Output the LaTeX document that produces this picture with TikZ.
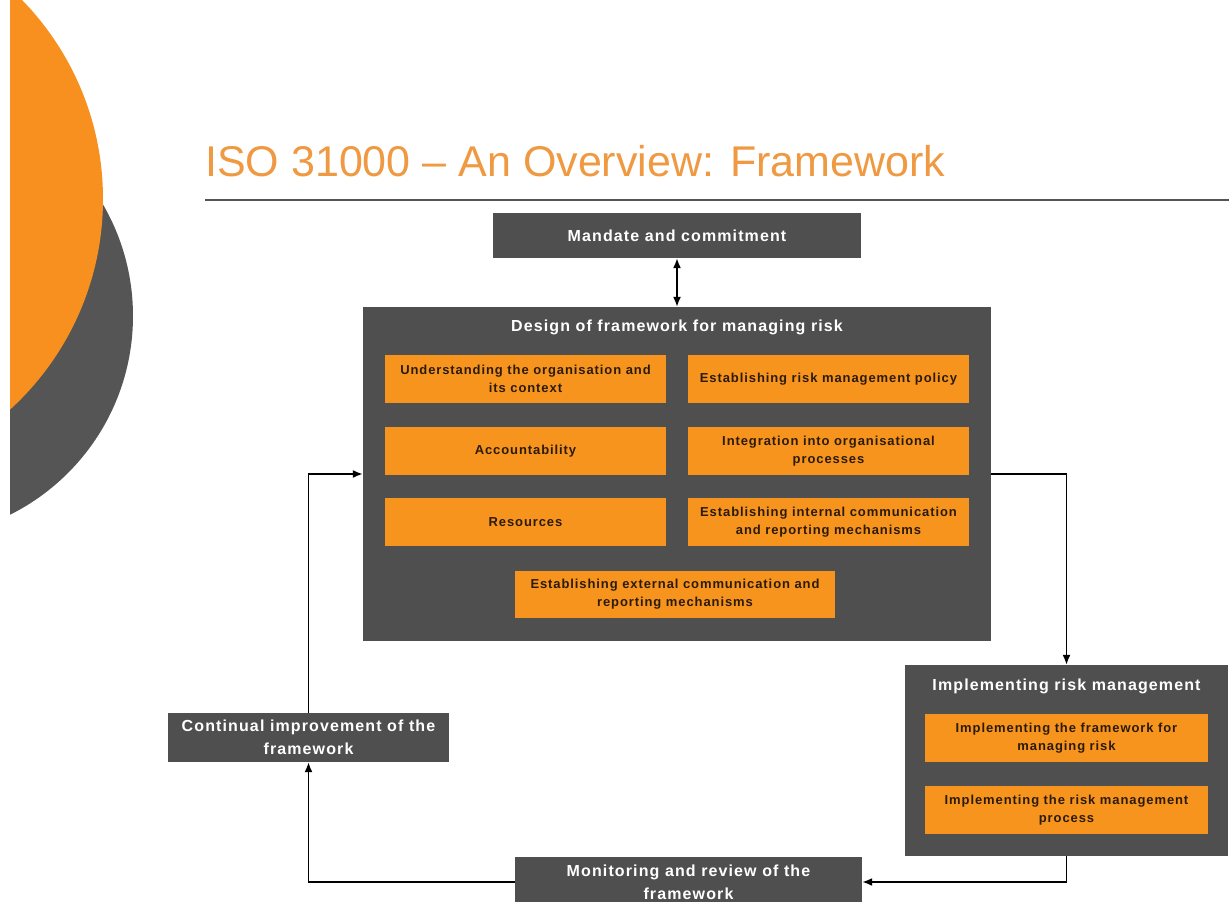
\documentclass[tikz,border=0pt]{standalone}
\usepackage{fontspec}
\setmainfont{Liberation Sans}
\newfontfamily\gfont[LetterSpace=7]{Liberation Sans}
\usetikzlibrary{arrows.meta}
\definecolor{boxgray}{HTML}{4F4F4F}
\definecolor{boxorange}{HTML}{F7941E}
\definecolor{circorange}{HTML}{F7901E}
\definecolor{circgray}{HTML}{555555}
\definecolor{titleorange}{HTML}{EF9A42}
\definecolor{txtdark}{HTML}{2B1B0B}
\tikzset{
  graybox/.style={fill=boxgray, draw=none, text=white, font=\gfont\bfseries\fontsize{16}{23}\selectfont, align=center, inner sep=0pt},
  graytitle/.style={text=white, font=\gfont\bfseries\fontsize{16}{23}\selectfont, align=center, inner sep=0pt},
  panel/.style={fill=boxgray, draw=none, inner sep=0pt},
  orangebox/.style={fill=boxorange, text=txtdark, font=\gfont\bfseries\fontsize{13}{18}\selectfont, align=center, inner sep=0pt, minimum width=281, minimum height=48},
  conn/.style={draw=black, line width=1.6pt, -{Latex[length=10pt,width=8pt]}},
}
\begin{document}
\begin{tikzpicture}[x=1pt,y=-1pt]
\useasboundingbox (0,0) rectangle (1229,902);
\fill[white] (0,0) rectangle (1229,902);
\begin{scope}
  \clip (10,0) rectangle (1229,902);
  \fill[circgray] (-89,316) circle[radius=222pt];
  \fill[circorange] (-182,199) circle[radius=285pt];
\end{scope}

\node[anchor=base west, text=titleorange, font=\fontsize{43}{43}\selectfont, inner sep=0pt] (title) at (205,176) {ISO 31000 – An Overview: Framework};
\draw[line width=1.8pt, draw=circgray] (205,200) -- (1229,200);

\node[graybox, minimum width=368, minimum height=45] (mandate) at (677,235.5) {Mandate and commitment};

\node[panel, minimum width=628, minimum height=334] (design) at (677,474) {};
\node[graytitle] (designtitle) at (677,327) {Design of framework for managing risk};
\node[orangebox] (understand) at (525.5,379) {Understanding the organisation and\\its context};
\node[orangebox] (policy) at (828.5,379) {Establishing risk management policy};
\node[orangebox] (account) at (525.5,451) {Accountability};
\node[orangebox] (integration) at (828.5,451) {Integration into organisational\\processes};
\node[orangebox] (resources) at (525.5,522) {Resources};
\node[orangebox] (internal) at (828.5,522) {Establishing internal communication\\and reporting mechanisms};
\node[orangebox, minimum width=320, minimum height=47] (external) at (675,594.5) {Establishing external communication and\\reporting mechanisms};

\node[panel, minimum width=323, minimum height=191] (impl) at (1066.5,760.5) {};
\node[graytitle] (impltitle) at (1066.5,686) {Implementing risk management};
\node[orangebox, minimum width=283] (implfw) at (1066.5,738) {Implementing the framework for\\managing risk};
\node[orangebox, minimum width=283] (implproc) at (1066.5,810) {Implementing the risk management\\process};

\node[graybox, minimum width=281, minimum height=49] (cont) at (308.5,737.5) {Continual improvement of the\\framework};
\node[graybox, minimum width=347, minimum height=50] (mon) at (688.5,882) {Monitoring and review of the\\framework};

\draw[conn, {Latex[length=10pt,width=8pt]}-{Latex[length=10pt,width=8pt]}] (mandate.south) -- (design.north);
\draw[conn] (design.east) -| (impl.north);
\draw[conn] (impl.south) |- (mon.east);
\draw[conn] (mon.west) -| (cont.south);
\draw[conn] (cont.north) |- (design.west);
\end{tikzpicture}
\end{document}
